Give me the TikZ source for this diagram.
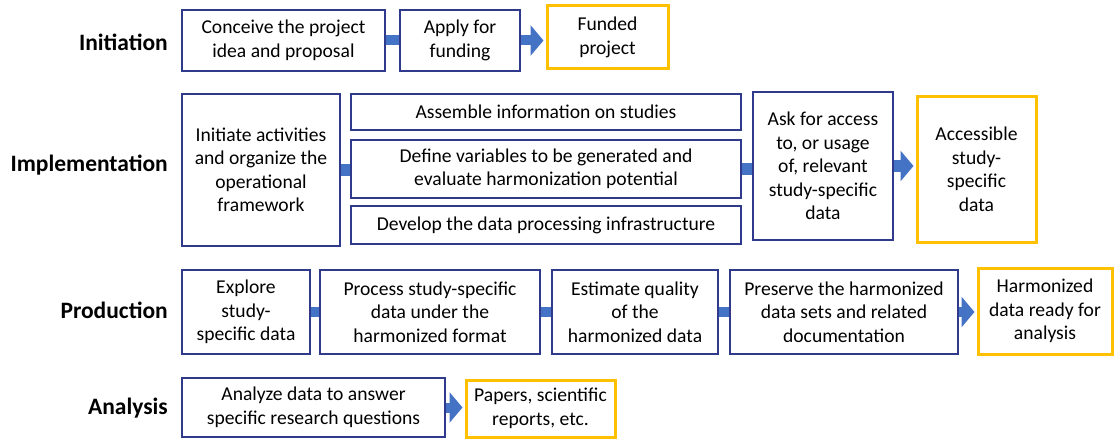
\documentclass[tikz,border=0pt]{standalone}
\usepackage{fontspec}
\setmainfont{Carlito}
\usetikzlibrary{arrows.meta}

\definecolor{boxblue}{RGB}{47,58,140}
\definecolor{boxgold}{RGB}{255,192,0}
\definecolor{linkblue}{RGB}{68,114,196}

\tikzset{
    stepbox/.style = {draw = boxblue, line width = 1.5pt, fill = white, align = center, inner sep = 0pt,
        font = \fontsize{19.6}{23.5}\selectfont},
    goalbox/.style = {stepbox, draw = boxgold, line width = 3pt},
    size/.style 2 args = {minimum width = #1pt, minimum height = #2pt},
    phase/.style = {anchor = east, inner sep = 0pt, font = \fontsize{23.5}{28}\selectfont\bfseries},
    link/.style = {draw = linkblue, line width = 10pt},
    flow/.style = {link, -{Triangle[length = 13pt, width = 30pt]}, shorten > = 2pt},
}

\begin{document}
\begin{tikzpicture}[x = 1pt, y = -1pt]
            % \draw[style = help lines, step = 50] (0,0) grid (1114,441);
            \useasboundingbox (0,0) rectangle (1114,441);

            % phases
            \node[phase] (initiation) at (168,42) {Initiation};
            \node[phase] (implementation) at (168,165) {Implementation};
            \node[phase] (production) at (168,310) {Production};
            \node[phase] (analysis) at (168,408) {Analysis};

            % initiation
            \node[stepbox, size = {203}{61}] (conceive) at (283.5,40.5) {Conceive the project\\idea and proposal};
            \node[stepbox, size = {120}{61}] (apply) at (460,40.5) {Apply for\\funding};
            \node[goalbox, size = {121}{63}] (funded) at (607.5,37.5) {Funded\\project};

            \draw[link] (conceive.east) -- (apply.west);
            \draw[flow] (apply.east) -- (apply.east -| funded.west);

            % implementation
            \node[stepbox, size = {158}{152}] (initiate) at (261,170) {Initiate activities\\and organize the\\operational\\framework};
            \node[stepbox, size = {390}{36}] (assemble) at (546,112) {Assemble information on studies};
            \node[stepbox, size = {390}{58}] (define) at (546,169) {Define variables to be generated and\\evaluate harmonization potential};
            \node[stepbox, size = {390}{38}] (develop) at (546,225) {Develop the data processing infrastructure};
            \node[stepbox, size = {140}{148}] (ask) at (823,166) {Ask for access\\to, or usage\\of, relevant\\study-specific\\data};
            \node[goalbox, size = {119}{145}] (accessible) at (976.5,169.5) {Accessible\\study-\\specific\\data};

            \draw[link, line width = 12pt] (initiate.east) -- (initiate.east -| define.west);
            \draw[link, line width = 12pt] (define.east) -- (define.east -| ask.west);
            \draw[flow, line width = 12pt] (ask.east) -- (ask.east -| accessible.west);

            % production
            \node[stepbox, size = {128}{84}] (explore) at (246,312) {Explore\\study-\\specific data};
            \node[stepbox, size = {220}{84}] (process) at (430,312) {Process study-specific\\data under the\\harmonized format};
            \node[stepbox, size = {166}{84}] (estimate) at (635,312) {Estimate quality\\of the\\harmonized data};
            \node[stepbox, size = {228}{84}] (preserve) at (844,312) {Preserve the harmonized\\data sets and related\\documentation};
            \node[goalbox, size = {134}{86}] (harmonized) at (1045,311) {Harmonized\\data ready for\\analysis};

            \draw[link] (explore.east) -- (process.west);
            \draw[link] (process.east) -- (estimate.west);
            \draw[link] (estimate.east) -- (preserve.west);
            \draw[flow] (preserve.east) -- (preserve.east -| harmonized.west);

            % analysis
            \node[stepbox, size = {263}{59}] (analyze) at (313.5,407.5) {Analyze data to answer\\specific research questions};
            \node[goalbox, size = {149}{57}] (papers) at (540.5,408.5) {Papers, scientific\\reports, etc.};

            \draw[flow] (analyze.east) -- (analyze.east -| papers.west);
\end{tikzpicture}
\end{document}
